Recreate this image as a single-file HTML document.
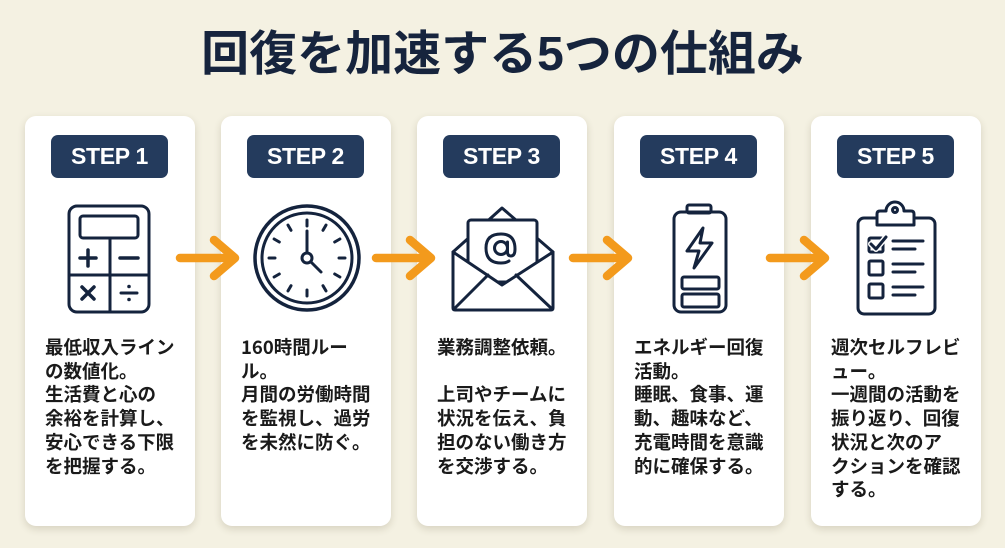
<!DOCTYPE html>
<html><head><meta charset="utf-8">
<style>
html,body{margin:0;padding:0;}
body{width:1005px;height:548px;background:#f4f1e2;position:relative;overflow:hidden;font-family:"Liberation Sans","Noto Sans CJK JP",sans-serif;}
.title{position:absolute;left:0;top:27px;width:1005px;text-align:center;font-family:"Liberation Sans","Noto Sans CJK JP",sans-serif;font-weight:700;font-size:48px;line-height:56px;color:#16243d;letter-spacing:0px;}
.card{position:absolute;top:116px;width:170px;height:410px;background:#fff;border-radius:11px;box-shadow:0 3px 8px rgba(60,50,20,0.16);}
.badge{position:absolute;left:26px;top:19px;width:117px;height:43px;background:#243b5d;border-radius:7px;color:#fff;font-weight:700;font-size:23px;line-height:43px;text-align:center;letter-spacing:-0.3px;font-family:"Liberation Sans","Noto Sans CJK JP",sans-serif;}
.txt{position:absolute;left:20px;top:220px;font-family:"Noto Sans CJK JP",sans-serif;font-weight:700;font-size:18.5px;line-height:23.7px;color:#1a1a1a;white-space:nowrap;}
svg{position:absolute;left:0;top:0;}
</style></head><body>
<div class="title">回復を加速する5つの仕組み</div>

<div class="card" style="left:25px"><div class="badge">STEP 1</div>
<div class="txt">最低収入ライン<br>の数値化。<br>生活費と心の<br>余裕を計算し、<br>安心できる下限<br>を把握する。</div></div>

<div class="card" style="left:221px"><div class="badge">STEP 2</div>
<div class="txt">160時間ルー<br>ル。<br>月間の労働時間<br>を監視し、過労<br>を未然に防ぐ。</div></div>

<div class="card" style="left:417px"><div class="badge">STEP 3</div>
<div class="txt">業務調整依頼。<br>&nbsp;<br>上司やチームに<br>状況を伝え、負<br>担のない働き方<br>を交渉する。</div></div>

<div class="card" style="left:614px"><div class="badge">STEP 4</div>
<div class="txt">エネルギー回復<br>活動。<br>睡眠、食事、運<br>動、趣味など、<br>充電時間を意識<br>的に確保する。</div></div>

<div class="card" style="left:811px"><div class="badge">STEP 5</div>
<div class="txt">週次セルフレビ<br>ュー。<br>一週間の活動を<br>振り返り、回復<br>状況と次のア<br>クションを確認<br>する。</div></div>

<svg width="1005" height="548" viewBox="0 0 1005 548" fill="none" stroke="#14233d" stroke-width="3" stroke-linecap="round" stroke-linejoin="round">
<!-- calculator -->
<rect x="69" y="206" width="80" height="106" rx="8"/>
<rect x="80" y="216" width="58" height="22" rx="3"/>
<line x1="110" y1="238" x2="110" y2="311"/>
<line x1="70" y1="275" x2="148" y2="275"/>
<line x1="80" y1="258" x2="96" y2="258" stroke-width="3.5"/>
<line x1="88" y1="250" x2="88" y2="266" stroke-width="3.5"/>
<line x1="120" y1="258" x2="138" y2="258" stroke-width="3.5"/>
<line x1="82" y1="287" x2="94" y2="299" stroke-width="3.5"/>
<line x1="94" y1="287" x2="82" y2="299" stroke-width="3.5"/>
<line x1="121" y1="293" x2="137" y2="293"/>
<circle cx="129" cy="286.5" r="1.8" fill="#14233d" stroke="none"/>
<circle cx="129" cy="299.5" r="1.8" fill="#14233d" stroke="none"/>

<!-- clock -->
<circle cx="307" cy="258" r="52" stroke-width="3.5"/>
<circle cx="307" cy="258" r="45"/>
<g stroke-width="3">
<line x1="307" y1="220" x2="307" y2="226"/>
<line x1="307" y1="290" x2="307" y2="296"/>
<line x1="269" y1="258" x2="275" y2="258"/>
<line x1="339" y1="258" x2="345" y2="258"/>
<line x1="326" y1="225.1" x2="323" y2="230.3"/>
<line x1="339.9" y1="239" x2="334.7" y2="242"/>
<line x1="339.9" y1="277" x2="334.7" y2="274"/>
<line x1="326" y1="290.9" x2="323" y2="285.7"/>
<line x1="288" y1="290.9" x2="291" y2="285.7"/>
<line x1="274.1" y1="277" x2="279.3" y2="274"/>
<line x1="274.1" y1="239" x2="279.3" y2="242"/>
<line x1="288" y1="225.1" x2="291" y2="230.3"/>
</g>
<line x1="307" y1="253" x2="307" y2="231"/>
<line x1="310.5" y1="261.5" x2="321" y2="272"/>
<circle cx="307" cy="258" r="5" fill="#fff"/>

<!-- envelope -->
<polyline points="453,252 502,208 553,252"/>
<rect x="468" y="220" width="69" height="62" rx="3" fill="#fff"/>
<path d="M453 252 L502 285 L553 252 L553 308 Q553 310 551 310 L455 310 Q453 310 453 308 Z" fill="#fff"/>
<line x1="455" y1="308" x2="488" y2="275"/>
<line x1="551" y1="308" x2="516" y2="275"/>
<circle cx="501" cy="248" r="6.5"/>
<path d="M507.5 242 V252 Q507.5 256 511 256 Q515 256 515 249 Q515 234 501 234 Q486 234 486 248 Q486 263 501 263 Q506 263 509 261"/>

<!-- battery -->
<rect x="687" y="205" width="24" height="8" rx="2"/>
<rect x="674" y="212" width="52" height="100" rx="7"/>
<polygon points="703,228 687,251 699,251 694,268 712,243 700,243"/>
<rect x="682" y="277" width="37" height="12" rx="2"/>
<rect x="682" y="294" width="37" height="13" rx="2"/>

<!-- clipboard -->
<rect x="858" y="218" width="77" height="96" rx="6"/>
<path d="M877 225 L877 214 Q877 211 880 211 L886 211 A9 9 0 0 1 904 211 L911 211 Q914 211 914 214 L914 225 Z" fill="#fff"/>
<circle cx="895" cy="210" r="2.5"/>
<rect x="869" y="238" width="14" height="14" rx="1.5"/>
<polyline points="871,244 876,249 886,237" stroke="#fff" stroke-width="6"/>
<polyline points="871,244 876,249 886,237"/>
<rect x="869" y="261" width="14" height="14" rx="1.5"/>
<rect x="869" y="284" width="14" height="14" rx="1.5"/>
<line x1="893" y1="241" x2="923" y2="241"/>
<line x1="893" y1="249" x2="915" y2="249"/>
<line x1="893" y1="264" x2="923" y2="264"/>
<line x1="893" y1="272" x2="915" y2="272"/>
<line x1="893" y1="287" x2="923" y2="287"/>
<line x1="893" y1="295" x2="915" y2="295"/>

<!-- arrows -->
<g stroke="#f39a1c" stroke-width="8.5">
<line x1="180" y1="258" x2="233" y2="258"/><polyline points="214,240 235,258 214,276"/>
<line x1="376" y1="258" x2="429" y2="258"/><polyline points="410,240 431,258 410,276"/>
<line x1="573" y1="258" x2="626" y2="258"/><polyline points="607,240 628,258 607,276"/>
<line x1="770" y1="258" x2="823" y2="258"/><polyline points="804,240 825,258 804,276"/>
</g>
</svg>
</body></html>
